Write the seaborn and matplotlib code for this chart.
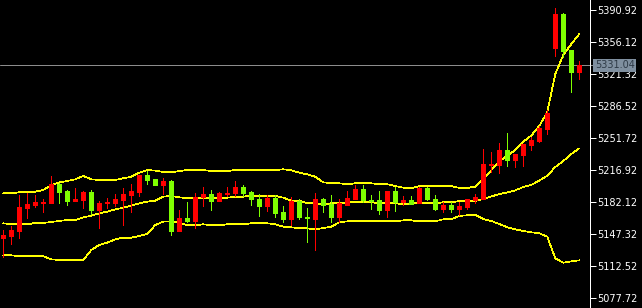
import numpy as np
import pandas as pd
import matplotlib
matplotlib.use("Agg")
import matplotlib.pyplot as plt
import matplotlib.transforms as mtransforms
import seaborn as sns

# ---- data ----
opens = [5143.0, 5145.5, 5150.6, 5175.9, 5178.9, 5181.0, 5181.4, 5201.7, 5193.8, 5183.5,
         5184.6, 5193.0, 5173.4, 5180.7, 5181.0, 5184.6, 5190.1, 5193.3, 5211.5, 5206.8,
         5200.9, 5204.6, 5150.9, 5164.7, 5161.5, 5187.9, 5191.2, 5183.5, 5191.2, 5191.9,
         5198.7, 5192.7, 5185.4, 5178.1, 5186.8, 5170.9, 5163.6, 5183.2, 5165.8, 5163.6,
         5185.4, 5179.6, 5166.1, 5179.2, 5185.7, 5195.9, 5184.3, 5184.0, 5173.8, 5193.8,
         5182.1, 5184.3, 5181.0, 5197.2, 5185.1, 5174.8, 5178.5, 5174.5, 5176.7, 5184.3,
         5185.7, 5222.4, 5222.7, 5238.7, 5228.1, 5233.6, 5244.1, 5248.8, 5261.8, 5349.9,
         5386.6, 5347.1, 5323.8]
highs = [5151.7, 5156.0, 5189.7, 5192.2, 5189.7, 5185.4, 5210.4, 5202.8, 5195.2, 5197.4,
         5194.1, 5195.2, 5183.2, 5186.8, 5190.8, 5197.7, 5202.0, 5211.5, 5216.2, 5207.5,
         5208.2, 5206.1, 5173.4, 5182.5, 5192.2, 5198.8, 5195.2, 5193.0, 5198.8, 5205.0,
         5200.1, 5194.4, 5191.2, 5190.1, 5189.4, 5177.4, 5187.6, 5185.4, 5175.6, 5191.9,
         5186.8, 5189.7, 5185.4, 5194.1, 5200.6, 5200.6, 5189.4, 5194.1, 5194.3, 5198.4,
         5188.6, 5188.6, 5198.8, 5198.1, 5189.7, 5181.8, 5182.5, 5182.5, 5185.6, 5190.5,
         5239.8, 5236.5, 5246.0, 5256.8, 5234.5, 5245.4, 5252.5, 5264.8, 5282.2, 5393.4,
         5388.0, 5347.3, 5335.5]
lows = [5122.3, 5136.4, 5143.3, 5165.1, 5176.7, 5171.3, 5180.7, 5181.4, 5179.2, 5183.3,
        5175.9, 5169.1, 5154.2, 5175.9, 5178.1, 5156.8, 5171.6, 5189.0, 5202.0, 5200.3,
        5191.2, 5145.9, 5150.6, 5160.7, 5154.2, 5177.8, 5173.4, 5182.9, 5188.7, 5189.0,
        5188.7, 5178.9, 5166.9, 5172.3, 5165.4, 5160.4, 5157.1, 5163.6, 5139.0, 5130.3,
        5171.3, 5160.7, 5160.0, 5178.9, 5185.4, 5182.1, 5174.8, 5169.4, 5166.1, 5172.3,
        5179.2, 5179.6, 5180.7, 5184.3, 5173.4, 5171.6, 5170.9, 5168.0, 5174.8, 5181.4,
        5185.4, 5214.4, 5214.0, 5221.6, 5220.5, 5221.6, 5238.7, 5247.4, 5256.1, 5340.9,
        5340.1, 5302.1, 5316.2]
closes = [5146.2, 5151.7, 5176.7, 5180.0, 5182.1, 5182.1, 5202.0, 5193.3, 5183.5, 5185.4,
          5193.3, 5173.8, 5181.4, 5182.1, 5185.1, 5190.8, 5194.1, 5211.5, 5206.4, 5200.9,
          5205.0, 5150.9, 5164.7, 5161.5, 5187.9, 5191.2, 5183.5, 5192.2, 5191.9, 5198.1,
          5192.2, 5185.7, 5178.1, 5186.5, 5170.5, 5163.6, 5183.2, 5166.1, 5164.2, 5185.4,
          5178.9, 5166.1, 5180.7, 5186.8, 5196.3, 5184.3, 5183.2, 5173.8, 5194.1, 5182.5,
          5184.3, 5180.3, 5197.4, 5185.1, 5174.8, 5178.9, 5174.8, 5178.1, 5185.4, 5187.6,
          5223.5, 5223.5, 5238.7, 5228.1, 5234.3, 5245.2, 5249.6, 5262.6, 5278.6, 5386.6,
          5346.7, 5323.8, 5331.04]

band_upper = [5191.6, 5191.6, 5192.7, 5192.7, 5193.3, 5195.2, 5200.6, 5203.5, 5205.0, 5206.8,
              5210.4, 5206.8, 5206.1, 5206.1, 5206.1, 5207.9, 5209.6, 5214.0, 5216.9, 5216.2,
              5214.8, 5214.4, 5215.8, 5216.9, 5216.9, 5216.9, 5215.8, 5215.8, 5215.8, 5216.9,
              5216.9, 5216.9, 5216.9, 5216.9, 5216.9, 5217.7, 5216.6, 5214.0, 5212.2, 5209.6,
              5203.5, 5202.5, 5202.5, 5201.4, 5202.5, 5202.5, 5202.5, 5201.4, 5201.4, 5199.5,
              5197.7, 5197.0, 5199.5, 5199.5, 5199.5, 5199.5, 5199.5, 5197.4, 5197.4, 5198.8,
              5207.9, 5216.6, 5226.7, 5232.2, 5238.7, 5247.7, 5254.4, 5264.8, 5280.0, 5321.3,
              5342.0, 5353.9, 5364.8]
band_middle = [5159.0, 5157.9, 5157.9, 5157.9, 5159.3, 5159.3, 5160.4, 5161.5, 5162.6, 5162.6,
               5165.5, 5167.2, 5169.8, 5171.6, 5174.2, 5175.9, 5178.1, 5180.7, 5182.5, 5183.5,
               5187.9, 5188.7, 5187.2, 5186.2, 5186.8, 5186.8, 5186.8, 5186.8, 5186.8, 5187.9,
               5187.9, 5189.0, 5189.0, 5188.7, 5188.7, 5186.8, 5183.5, 5183.5, 5180.7, 5180.7,
               5179.6, 5180.7, 5180.7, 5181.8, 5181.8, 5181.8, 5181.8, 5180.7, 5180.7, 5180.7,
               5179.6, 5180.7, 5180.7, 5180.7, 5180.7, 5181.8, 5181.8, 5183.2, 5183.2, 5183.2,
               5185.7, 5188.1, 5190.8, 5192.5, 5194.8, 5198.4, 5200.6, 5205.5, 5210.7, 5220.2,
               5226.7, 5234.3, 5240.5]
band_lower = [5124.2, 5124.2, 5123.1, 5123.1, 5123.1, 5123.1, 5119.8, 5119.05, 5119.05, 5119.05,
              5119.05, 5129.9, 5135.4, 5137.9, 5141.6, 5143.3, 5143.3, 5145.15, 5147.3, 5157.1,
              5160.9, 5161.1, 5159.3, 5156.8, 5156.8, 5157.9, 5156.8, 5156.8, 5157.9, 5157.9,
              5157.9, 5159.0, 5159.0, 5159.0, 5157.9, 5155.3, 5154.6, 5153.5, 5153.5, 5152.4,
              5153.85, 5155.3, 5160.05, 5161.1, 5161.1, 5161.1, 5161.1, 5161.1, 5161.1, 5161.1,
              5162.2, 5162.2, 5161.1, 5161.1, 5161.1, 5163.3, 5163.3, 5166.9, 5167.7, 5168.0,
              5163.6, 5161.5, 5158.2, 5154.6, 5152.4, 5150.6, 5149.2, 5148.1, 5144.4, 5120.9,
              5116.1, 5117.6, 5118.7]

tick_values = [5390.92, 5356.12, 5321.32, 5286.52, 5251.72, 5216.92,
               5182.12, 5147.32, 5112.52, 5077.72]
last_price = 5331.04

# ---- styling ----
sns.set_style("dark", {"axes.facecolor": "black", "figure.facecolor": "black"})
plt.rcParams["font.family"] = ["DejaVu Sans"]

fig = plt.figure(figsize=(6.42, 3.08), dpi=100, facecolor="black")
ax = fig.add_axes([0, 0, 590 / 642, 1])
ax.set_facecolor("black")

n = len(closes)
idx = np.arange(n)

# Bollinger bands via seaborn
bands = pd.DataFrame({
    "idx": np.concatenate([idx, idx, idx]),
    "value": band_upper + band_middle + band_lower,
    "band": ["upper"] * n + ["middle"] * n + ["lower"] * n,
})
sns.lineplot(data=bands, x="idx", y="value", hue="band", units="band", estimator=None,
             palette={"upper": "#ffff00", "middle": "#ffff00", "lower": "#ffff00"},
             linewidth=0.5, legend=False, ax=ax, zorder=2)
for ln in ax.get_lines():
    ln.set_linewidth(0.5)
    ln.set_antialiased(False)

# candles
up_col = "#ff0000"
dn_col = "#7fff00"
o = np.array(opens); c = np.array(closes); h = np.array(highs); l = np.array(lows)
cols = [up_col if cc >= oo else dn_col for oo, cc in zip(o, c)]
ax.vlines(idx, l, h, colors=cols, linewidth=0.72, antialiased=False, zorder=3)
body_bottom = np.minimum(o, c)
body_top = body_bottom + np.maximum(np.abs(c - o), 1.1)
# bodies: thick butt-capped segments, 5 px wide
ax.vlines(idx, body_bottom, body_top, colors=cols, linewidth=3.6,
          antialiased=False, zorder=4, capstyle="butt")

# current price line
ax.axhline(last_price, xmin=0, xmax=1.006, color="#8c8c8c", linewidth=0.72,
           clip_on=False, zorder=1)

# axes limits
ax.set_xlim(-0.41, 73.34)
ax.set_ylim(5066.845, 5401.795)

ax.set_xlabel("")
ax.set_ylabel("")
ax.set_xticks([])
ax.yaxis.tick_right()
ax.set_yticks(tick_values)
ax.set_yticklabels([f"{v:.2f}" for v in tick_values])
ax.tick_params(axis="y", colors="white", labelcolor="white", length=4, width=0.72,
               pad=1, labelsize=7, direction="out")
ax.grid(False)
for s in ["left", "top", "bottom"]:
    ax.spines[s].set_visible(False)
ax.spines["right"].set_color("white")
ax.spines["right"].set_linewidth(0.72)

# price label box
trans = mtransforms.blended_transform_factory(ax.transAxes, ax.transData)
ax.text(1.008, last_price, f"{last_price:.2f}", transform=trans, ha="left", va="center",
        fontsize=7, color="#2e3a46", clip_on=False, zorder=10,
        bbox=dict(boxstyle="square,pad=0.15", facecolor="#7f8f9f", edgecolor="none"))

fig.savefig("out.png", dpi=100, facecolor="black")
